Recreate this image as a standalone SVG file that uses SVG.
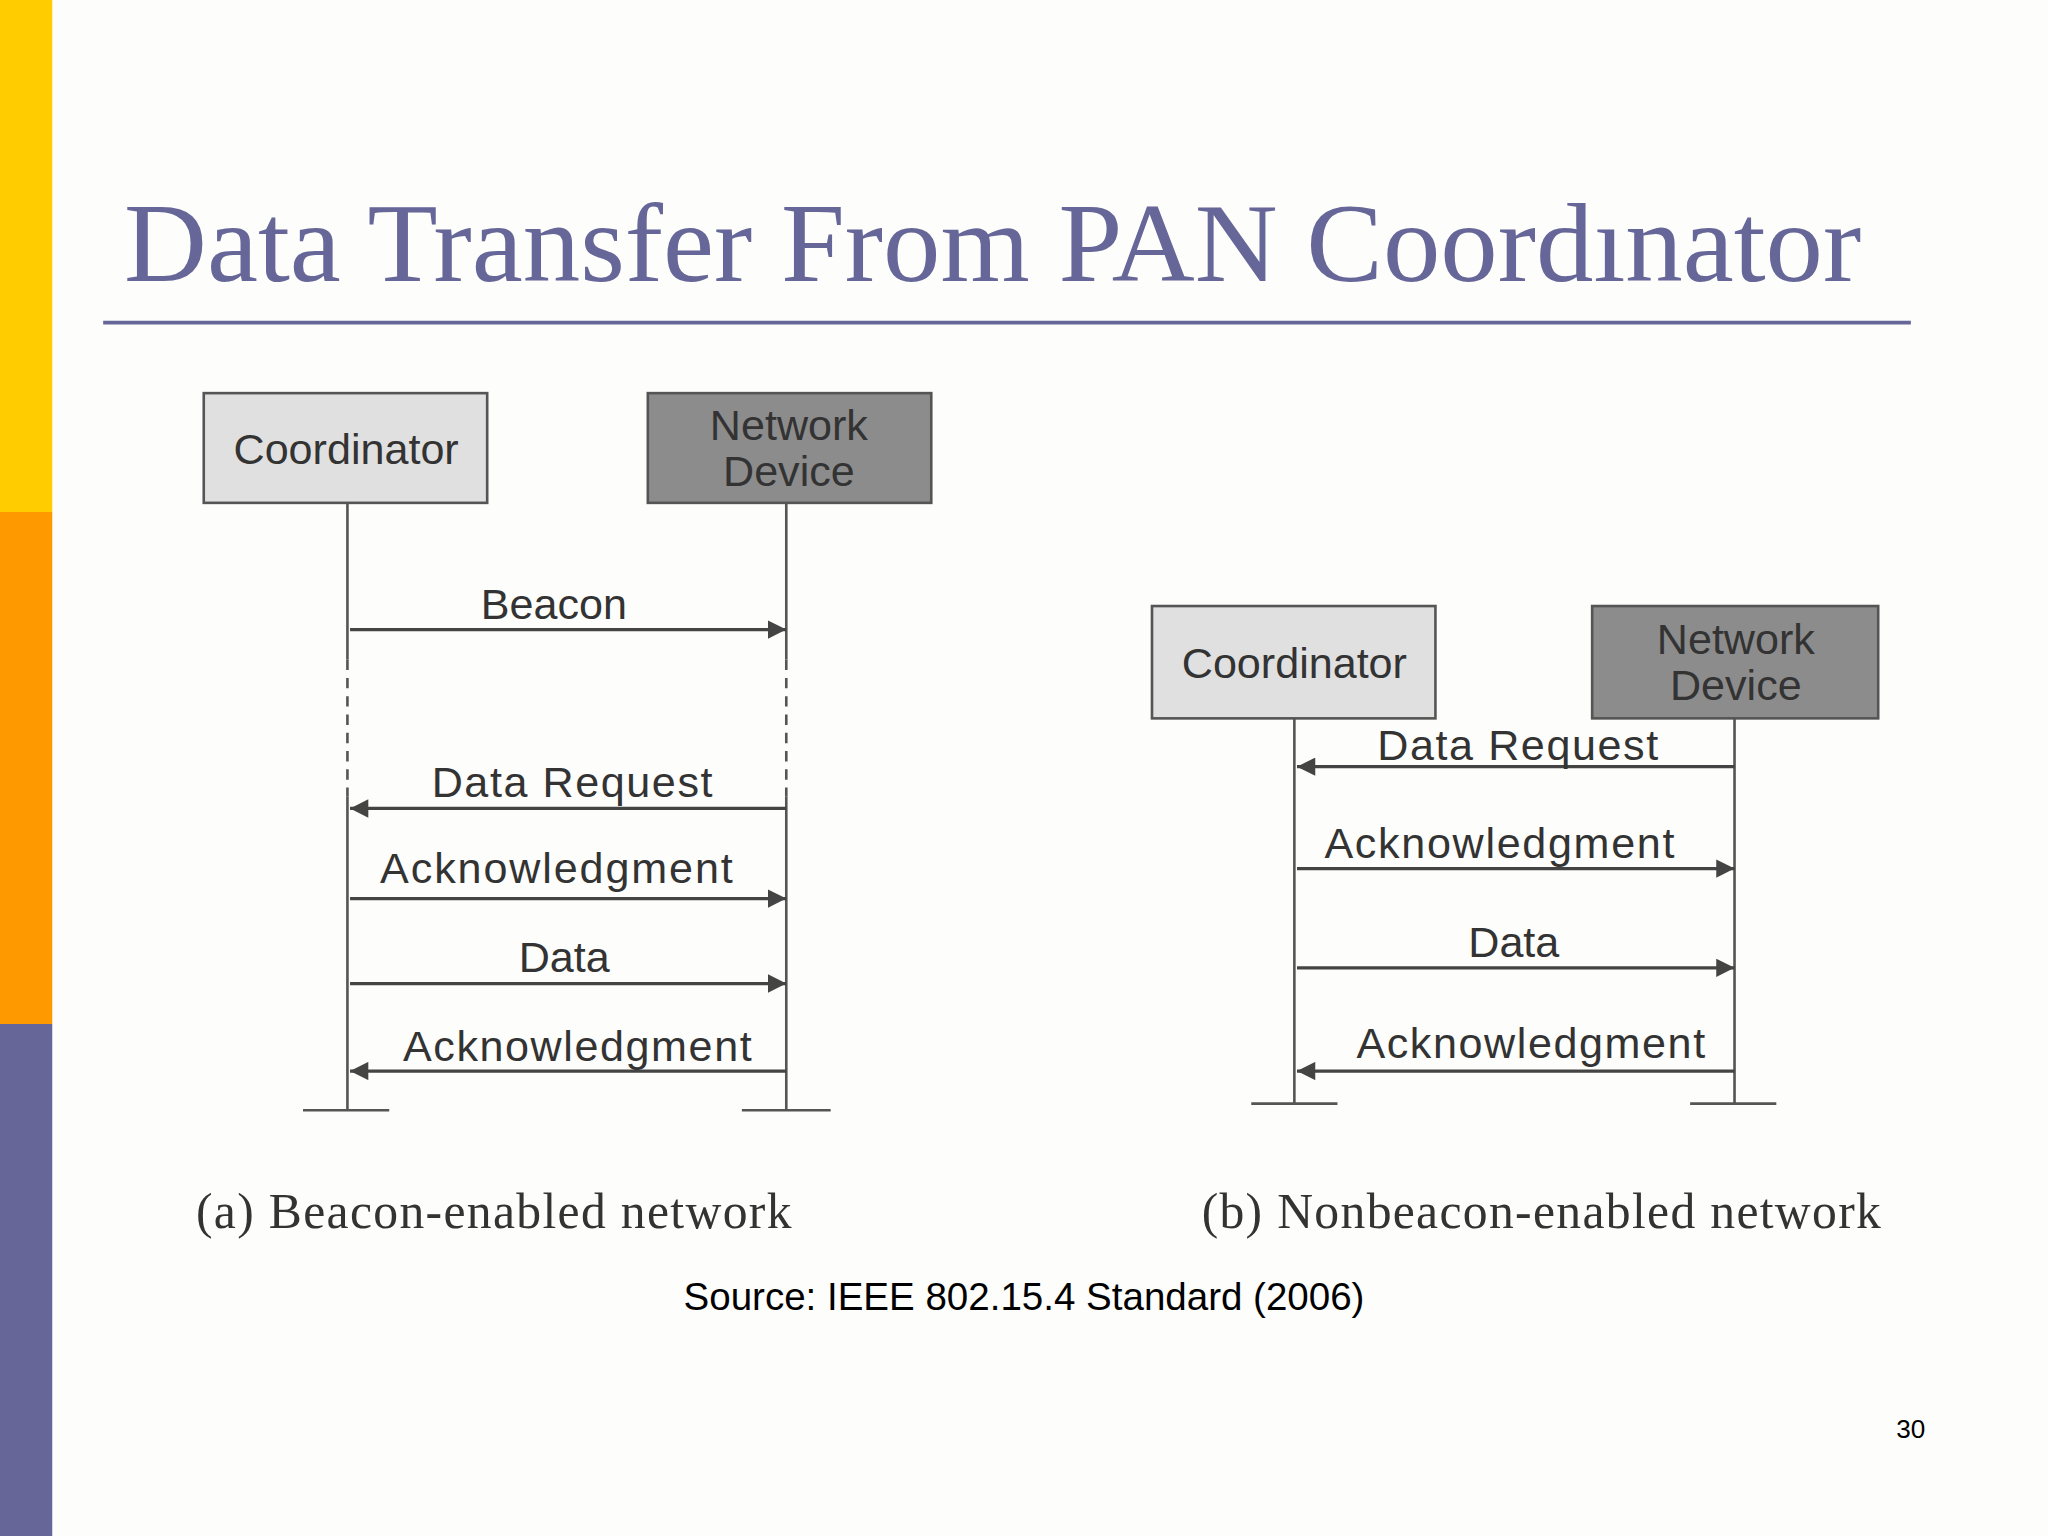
<svg xmlns="http://www.w3.org/2000/svg" width="2048" height="1536" viewBox="0 0 2048 1536">
<defs>
<marker id="ah" viewBox="0 0 10 10" refX="10" refY="5" markerWidth="18" markerHeight="14" markerUnits="userSpaceOnUse" orient="auto"><path d="M0,0 L10,5 L0,10 Z" fill="#444"/></marker>
<style>
.box{stroke:#555;stroke-width:2}
.life{stroke:#555;stroke-width:2;fill:none}
.msg{stroke:#444;stroke-width:2.5;marker-end:url(#ah)}
.lbl{font-family:"Liberation Sans",Arial,sans-serif;font-size:33px;fill:#333;text-anchor:middle}
.cap{font-family:"Liberation Serif","Times New Roman",serif;font-size:38px;fill:#333}
</style>
</defs>
<g transform="scale(1.30612)">
<rect width="1568" height="1176" fill="#fdfdfb"/>
<rect x="0" y="0" width="40" height="392" fill="#ffcc00"/>
<rect x="0" y="392" width="40" height="392" fill="#ff9900"/>
<rect x="0" y="784" width="40" height="392" fill="#666699"/>
<text x="95" y="215" font-family="Liberation Serif,'Times New Roman',serif" font-size="86" fill="#666699" textLength="1330" lengthAdjust="spacingAndGlyphs">Data Transfer From PAN Coordınator</text>
<line x1="79" y1="247" x2="1463" y2="247" stroke="#666699" stroke-width="3"/>

<g id="a-coord"><rect class="box" x="156" y="301" width="217" height="84" fill="#e0e0e0"/><text class="lbl" x="265" y="355">Coordinator</text></g>
<g id="a-dev"><rect class="box" x="496" y="301" width="217" height="84" fill="#8c8c8c"/><text class="lbl" x="604" y="337">Network</text><text class="lbl" x="604" y="372">Device</text></g>
<g id="b-coord"><rect class="box" x="882" y="464" width="217" height="86" fill="#e0e0e0"/><text class="lbl" x="991" y="519">Coordinator</text></g>
<g id="b-dev"><rect class="box" x="1219" y="464" width="219" height="86" fill="#8c8c8c"/><text class="lbl" x="1329" y="501">Network</text><text class="lbl" x="1329" y="536">Device</text></g>

<g id="connectors">
<path class="life" d="M266,385 V505 M266,610 V850 M602,385 V505 M602,610 V850 M232,850 H298 M568,850 H636"/>
<path class="life" stroke-dasharray="8,6" d="M266,505 V610 M602,505 V610"/>
<path class="life" d="M991,550 V845 M1328,550 V845 M958,845 H1024 M1294,845 H1360"/>
<line class="msg" x1="268" y1="482" x2="602" y2="482"/>
<line class="msg" x1="602" y1="619" x2="268" y2="619"/>
<line class="msg" x1="268" y1="688" x2="602" y2="688"/>
<line class="msg" x1="268" y1="753" x2="602" y2="753"/>
<line class="msg" x1="602" y1="820" x2="268" y2="820"/>
<line class="msg" x1="1328" y1="587" x2="993" y2="587"/>
<line class="msg" x1="993" y1="665" x2="1328" y2="665"/>
<line class="msg" x1="993" y1="741" x2="1328" y2="741"/>
<line class="msg" x1="1328" y1="820" x2="993" y2="820"/>
<text class="lbl" x="438" y="474" textLength="215" lengthAdjust="spacingAndGlyphs" style="display:none"></text>
<text class="lbl" x="424" y="474">Beacon</text>
<text class="lbl" x="438" y="610" textLength="215">Data Request</text>
<text class="lbl" x="426" y="676" textLength="270">Acknowledgment</text>
<text class="lbl" x="432" y="744">Data</text>
<text class="lbl" x="442" y="812" textLength="267">Acknowledgment</text>
<text class="lbl" x="1162" y="582" textLength="215">Data Request</text>
<text class="lbl" x="1148" y="657" textLength="268">Acknowledgment</text>
<text class="lbl" x="1159" y="733">Data</text>
<text class="lbl" x="1172" y="810" textLength="267">Acknowledgment</text>
</g>
<text class="cap" x="150" y="940" textLength="456">(a) Beacon-enabled network</text>
<text class="cap" x="920" y="940" textLength="520">(b) Nonbeacon-enabled network</text>
<text x="784" y="1003" font-family="Liberation Sans,Arial,sans-serif" font-size="29.5" fill="#000" text-anchor="middle">Source: IEEE 802.15.4 Standard (2006)</text>
<text x="1474" y="1101" font-family="Liberation Sans,Arial,sans-serif" font-size="20" fill="#000" text-anchor="end">30</text>
</g>
</svg>
